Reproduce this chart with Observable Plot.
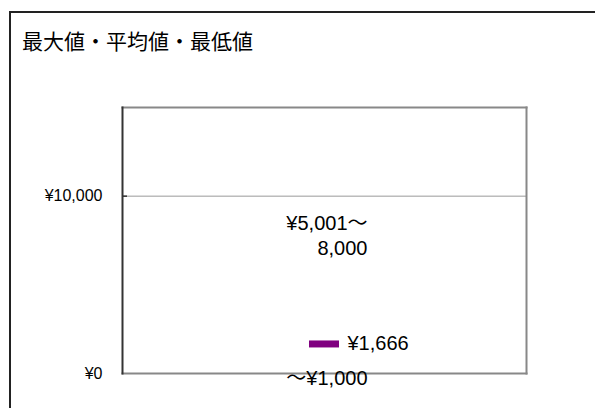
<!DOCTYPE html>
<html>
<head>
<meta charset="utf-8">
<script src="https://cdn.jsdelivr.net/npm/d3@7"></script>
<script src="https://cdn.jsdelivr.net/npm/@observablehq/plot@0.6"></script>
<style>
  html, body { margin: 0; padding: 0; background: #fff; overflow: hidden; }
  #wrap { position: relative; width: 595px; height: 408px; overflow: hidden; }
  #border { position: absolute; left: 9px; top: 11px; width: 620px; height: 430px; border: 2px solid #222; box-sizing: border-box; }
  #title { position: absolute; left: 22px; top: 27px; font-family: 'Noto Sans CJK JP', sans-serif; font-size: 21px; line-height: 26px; color: #000; white-space: nowrap; }
  #chart { position: absolute; left: 0; top: 0; }
</style>
</head>
<body>
<div id="wrap">
  <div id="border"></div>
  <div id="title">最大値・平均値・最低値</div>
  <div id="chart"></div>
</div>
<script>
const categories = ["価格"];
const statNames = ["最大値", "平均値", "最低値"];
const statValues = [8000, 1666, 1000];
const statLabels = ["¥5,001〜\n8,000", "¥1,666", "〜¥1,000"];
const yTicks = [0, 10000];
const yTickLabels = ["¥0", "¥10,000"];
const yMax = 15000;

const stats = statNames.map((s, i) => ({stat: s, cat: categories[0], value: statValues[i], label: statLabels[i]}));
const maxRow = stats.filter(d => d.stat === "最大値");
const avgRow = stats.filter(d => d.stat === "平均値");
const minRow = stats.filter(d => d.stat === "最低値");

const labelFont = "'Liberation Sans', 'Noto Sans CJK JP', sans-serif";

const chart = Plot.plot({
  width: 595,
  height: 408,
  marginTop: 107,
  marginBottom: 35,
  marginLeft: 122,
  marginRight: 69,
  x: {domain: categories, padding: 0, axis: null, label: null},
  y: {domain: [0, yMax], axis: null, label: null},
  style: {fontFamily: "'Noto Sans CJK JP', sans-serif", color: "#000", background: "transparent", overflow: "visible"},
  marks: [
    Plot.gridY(yTicks.filter(d => d > 0), {stroke: "#999", strokeOpacity: 1, strokeWidth: 1}),
    Plot.frame({anchor: "top", stroke: "#888", strokeWidth: 2}),
    Plot.frame({anchor: "right", stroke: "#888", strokeWidth: 2}),
    Plot.frame({anchor: "bottom", stroke: "#888", strokeWidth: 2}),
    Plot.frame({anchor: "left", stroke: "#333", strokeWidth: 2}),
    Plot.tickY(yTicks.filter(d => d > 0), {y: d => d, stroke: "#333", strokeWidth: 1.5, insetRight: 399}),
    Plot.axisY({ticks: yTicks, tickSize: 0, tickPadding: 20, fontSize: 16, label: null, fontFamily: labelFont,
      tickFormat: d => yTickLabels[yTicks.indexOf(d)]}),
    Plot.tickY(avgRow, {x: "cat", y: "value", stroke: "#800080", strokeWidth: 7, insetLeft: 187, insetRight: 187}),
    Plot.text(avgRow, {x: "cat", y: "value", text: "label", textAnchor: "start", dx: 23, fontSize: 20, fontFamily: labelFont}),
    Plot.text(maxRow, {x: "cat", y: "value", text: "label", textAnchor: "end", dx: 43, dy: 3, fontSize: 20, lineHeight: 1.25, fontFamily: labelFont}),
    Plot.text(minRow, {x: "cat", y: "value", text: "label", textAnchor: "end", dx: 43, dy: 22.5, fontSize: 20, fontFamily: labelFont})
  ]
});
document.getElementById("chart").appendChild(chart);
</script>
</body>
</html>
